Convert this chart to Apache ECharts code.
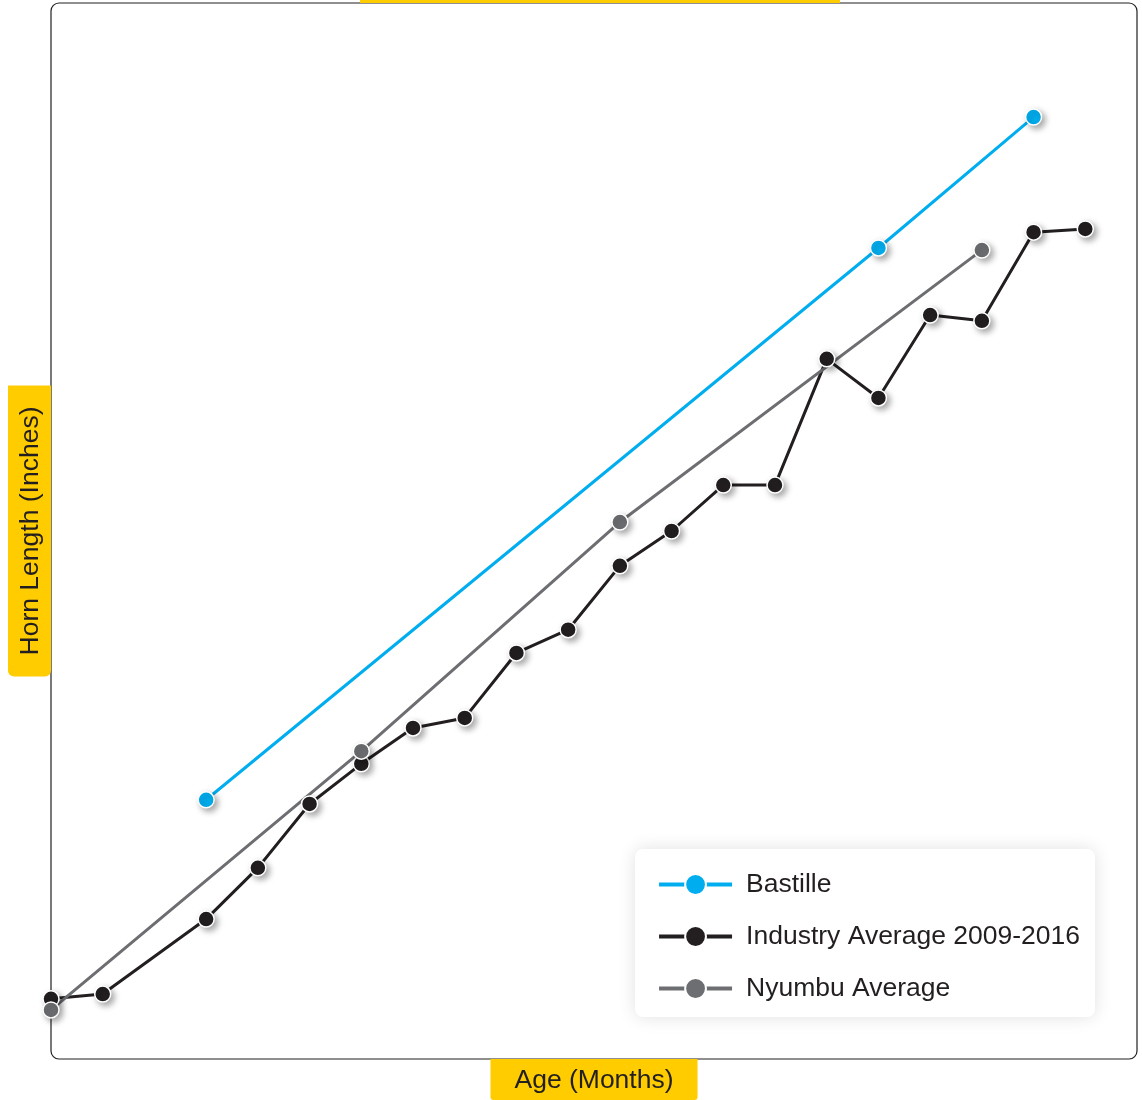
<!DOCTYPE html>
<html>
<head>
<meta charset="utf-8">
<script src="https://cdn.jsdelivr.net/npm/echarts@6/dist/echarts.min.js"></script>
<style>
  html, body { margin: 0; padding: 0; background: #fff; }
  #chart { width: 1142px; height: 1100px; }
</style>
</head>
<body>
<div id="chart"></div>
<script>
// age in months, horn length in inches
var industryAges = [0, 1, 3, 4, 5, 6, 7, 8, 9, 10, 11, 12, 13, 14, 15, 16, 17, 18, 19, 20];
var industryLen  = [1.14, 1.23, 2.65, 3.62, 4.83, 5.59, 6.27, 6.46, 7.69, 8.13, 9.34, 10.0, 10.87, 10.87, 13.26, 12.52, 14.09, 13.98, 15.66, 15.72];
var bastilleAges = [3, 16, 19];
var bastilleLen  = [4.91, 15.36, 17.84];
var nyumbuAges   = [0, 6, 11, 18];
var nyumbuLen    = [0.93, 5.83, 10.17, 15.32];

function pairs(xs, ys) {
    return xs.map(function (x, i) { return [x, ys[i]]; });
}

var FONT = '"Liberation Sans", Arial, sans-serif';
var TEXT = '#231F20';

function lineSeries(name, color, data) {
    return {
        name: name,
        type: 'line',
        data: data,
        symbol: 'circle',
        symbolSize: 16,
        showSymbol: true,
        lineStyle: { color: color, width: 3 },
        itemStyle: {
            color: color,
            borderColor: '#fff',
            borderWidth: 1.5,
            shadowColor: 'rgba(0,0,0,0.35)',
            shadowBlur: 6,
            shadowOffsetX: 3,
            shadowOffsetY: 3
        },
        emphasis: { disabled: true },
        animation: false
    };
}

var option = {
    animation: false,
    grid: { left: 51, right: 5, top: 3, bottom: 41, outerBoundsMode: 'none' },
    graphic: [
        {
            type: 'rect', z: -1,
            shape: { x: 51, y: 3, width: 1086, height: 1056, r: 8 },
            style: { fill: '#fff', stroke: TEXT, lineWidth: 1.2 }
        },
        {
            type: 'rect',
            shape: { x: 360, y: 0, width: 480, height: 3 },
            style: { fill: '#FFCC00' }
        }
    ],
    legend: {
        orient: 'vertical',
        right: 47,
        bottom: 83,
        padding: [22, 15, 15, 22],
        itemWidth: 73,
        itemHeight: 26,
        itemGap: 25,
        backgroundColor: '#fff',
        borderRadius: 8,
        shadowColor: 'rgba(0,0,0,0.12)',
        shadowBlur: 18,
        lineStyle: { width: 4 },
        textStyle: { fontFamily: FONT, fontSize: 26.5, color: TEXT, padding: [0, 0, 0, 9] },
        data: ['Bastille', 'Industry Average 2009-2016', 'Nyumbu Average']
    },
    xAxis: {
        type: 'value',
        min: 0,
        max: 21,
        name: 'Age (Months)',
        nameLocation: 'middle',
        nameGap: 0,
        nameTextStyle: {
            fontFamily: FONT, fontSize: 26.5, color: TEXT,
            backgroundColor: '#FFCC00',
            padding: [8, 24, 6, 24],
            borderRadius: [0, 0, 3, 3]
        },
        axisLine: { show: false },
        axisTick: { show: false },
        axisLabel: { show: false },
        splitLine: { show: false }
    },
    yAxis: {
        type: 'value',
        min: 0,
        max: 20,
        name: 'Horn Length (Inches)',
        nameLocation: 'middle',
        nameRotate: 90,
        nameGap: 0,
        nameTextStyle: {
            fontFamily: FONT, fontSize: 26.5, color: TEXT,
            backgroundColor: '#FFCC00',
            padding: [9, 21, 7, 21],
            borderRadius: [6, 0, 0, 6]
        },
        axisLine: { show: false },
        axisTick: { show: false },
        axisLabel: { show: false },
        splitLine: { show: false }
    },
    series: [
        lineSeries('Bastille', '#00AEEF', pairs(bastilleAges, bastilleLen)),
        lineSeries('Industry Average 2009-2016', '#231F20', pairs(industryAges, industryLen)),
        lineSeries('Nyumbu Average', '#6D6E71', pairs(nyumbuAges, nyumbuLen))
    ]
};

var chart = echarts.init(document.getElementById('chart'));
chart.setOption(option);
window.onresize = chart.resize;
</script>
</body>
</html>
